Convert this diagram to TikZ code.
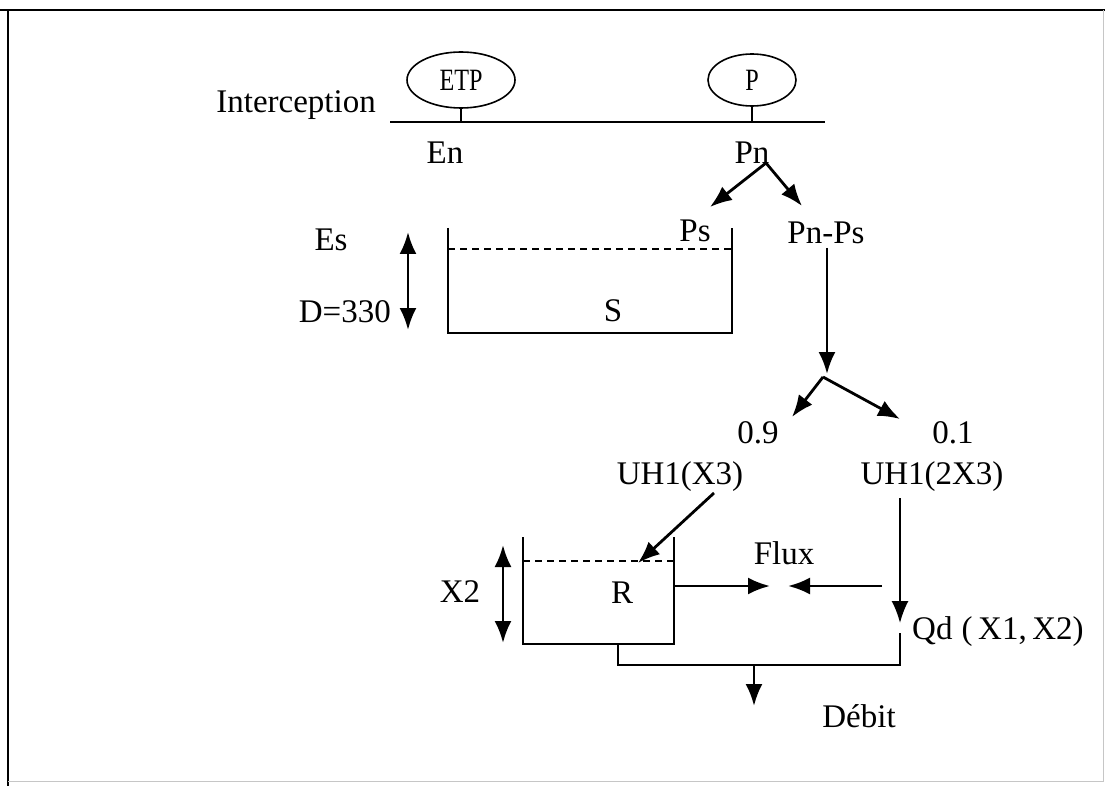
\documentclass[tikz,border=0pt]{standalone}
\usepackage{fontspec}
\setmainfont{Liberation Serif}
\usetikzlibrary{arrows.meta,shapes.geometric}

\begin{document}
\begin{tikzpicture}[x=1pt,y=-1pt,
    txt/.style={font=\fontsize{33}{38}\selectfont,inner sep=0pt},
    oval/.style={draw,line width=1.6pt,ellipse,inner sep=0pt,font=\fontsize{31}{33}\selectfont},
    flow/.style={line width=2.8pt,-{Latex[length=22pt,width=17pt]}},
    twoway/.style={line width=2.8pt,{Latex[length=22pt,width=17pt]}-{Latex[length=22pt,width=17pt]}},
    wall/.style={line width=1.8pt},
    level/.style={line width=1.6pt,dash pattern=on 7pt off 5pt}]
  \useasboundingbox (0,0) rectangle (1105,786);
  % frame
  \draw[line width=1.8pt] (0,10) -- (1105,10);
  \draw[line width=1.6pt] (8,10) -- (8,786);
  \draw[gray!45,line width=1pt] (8,781) -- (1103,781) -- (1103,10);

  % interception
  \node[oval,minimum width=108pt,minimum height=56pt] (etp) at (461,80) {\scalebox{0.78}[1]{ETP}};
  \node[oval,minimum width=88pt,minimum height=52pt] (p) at (752,80) {\scalebox{0.78}[1]{P}};
  \coordinate (intl) at (390,122);
  \coordinate (intr) at (825,122);
  \draw[line width=2pt] (intl) -- (intr);
  \draw[line width=1.6pt] (etp.south) -- (etp.south |- intl);
  \draw[line width=1.6pt] (p.south) -- (p.south |- intl);
  \node[txt,anchor=east] (interc) at (376,105) {Interception};
  \node[txt] (en) at (445,153) {En};
  \node[txt] (pn) at (752,153) {Pn};

  % production store
  \node[txt] (ps) at (695,231) {Ps};
  \node[txt] (pnps) at (826,233) {Pn-Ps};
  \coordinate (pnfork) at (766,163);
  \coordinate (tops) at (710,207);
  \coordinate (topnps) at (802,206);
  \draw[flow] (pnfork) -- (tops);
  \draw[flow] (pnfork) -- (topnps);
  \draw[wall] (448,228) -- (448,333) -- (732,333) -- (732,228);
  \draw[level] (448,249) -- (732,249);
  \node[txt] (s) at (613,311) {S};
  \node[txt] (es) at (331,240) {Es};
  \node[txt,anchor=east] (d) at (391,312) {D=330};
  \draw[twoway] (408,232) -- (408,330);

  % split 0.9 / 0.1
  \coordinate (split) at (823,377);
  \draw[flow] (827,248) -- (827,374);
  \draw[flow] (split) -- (792,417);
  \draw[flow] (split) -- (900,419);
  \node[txt] (f09) at (758,433) {0.9};
  \node[txt] (f01) at (953,433) {0.1};
  \node[txt] (uha) at (680,477) {UH1(X3)};
  \node[txt] (uhb) at (932,477) {UH1(2X3)};

  % routing store
  \draw[wall] (523,537) -- (523,644) -- (674,644) -- (674,537);
  \draw[level] (523,561) -- (674,561);
  \node[txt] (r) at (622,593) {R};
  \node[txt] (x2) at (460,592) {X2};
  \draw[twoway] (503,545) -- (503,643);
  \coordinate (rin) at (638,563);
  \draw[flow] (714,493) -- (rin);

  % exchange and outflow
  \node[txt] (flux) at (784,553) {Flux};
  \draw[flow] (674,586) -- (770,586);
  \draw[flow] (882,586) -- (788,586);
  \coordinate (qdtip) at (900,623);
  \draw[flow,line width=1.8pt] (900,498) -- (qdtip);
  \node[txt,anchor=west] (qd) at (912,632) {Qd\;(\,X1,\,X2)};
  \coordinate (join) at (754,665);
  \draw[wall] (900,633) -- (900,665) -- (618,665) -- (618,644);
  \draw[flow] (join) -- (754,706);
  \node[txt] (debit) at (859,716) {Débit};
\end{tikzpicture}
\end{document}
